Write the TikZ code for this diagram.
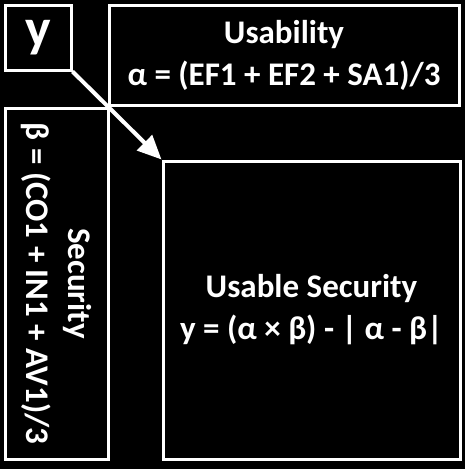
\documentclass[tikz,border=0pt]{standalone}
\usepackage{fontspec}
\setmainfont{Carlito}
\usetikzlibrary{arrows.meta, positioning}
\tikzset{
  every picture/.style={font=\bfseries, >=Stealth},
  cuadro/.style={draw=white, fill=black, text=white, line width=3pt, inner sep=0pt,
                 align=center, font=\fontsize{33}{42}\selectfont\bfseries},
  flecha/.style={-{Triangle[length=24pt,width=21pt]}, white, line width=4pt},
}
\begin{document}
\begin{tikzpicture}[x=1pt, y=-1pt]
  \fill[black] (0,0) rectangle (465,469);
  \node[cuadro, minimum width=66pt, minimum height=65pt, font=\fontsize{54}{54}\selectfont\bfseries] (gam) at (38,37.5) {y};
  \node[cuadro, minimum width=350pt, minimum height=100pt] (usab) at (284,55) {Usability\\α = (EF1 + EF2 + SA1)/3};
  \node[cuadro, rotate=-90, minimum width=351pt, minimum height=103pt] (secu) at (56.5,283.5) {Security\\β = (CO1 + IN1 + AV1)/3};
  \node[cuadro, minimum width=297pt, minimum height=298pt] (usec) at (311.5,310) {Usable Security\\y = (α × β) - | α - β|};
  \draw[flecha] (gam.south east) -- (usec.north west);
\end{tikzpicture}
\end{document}
